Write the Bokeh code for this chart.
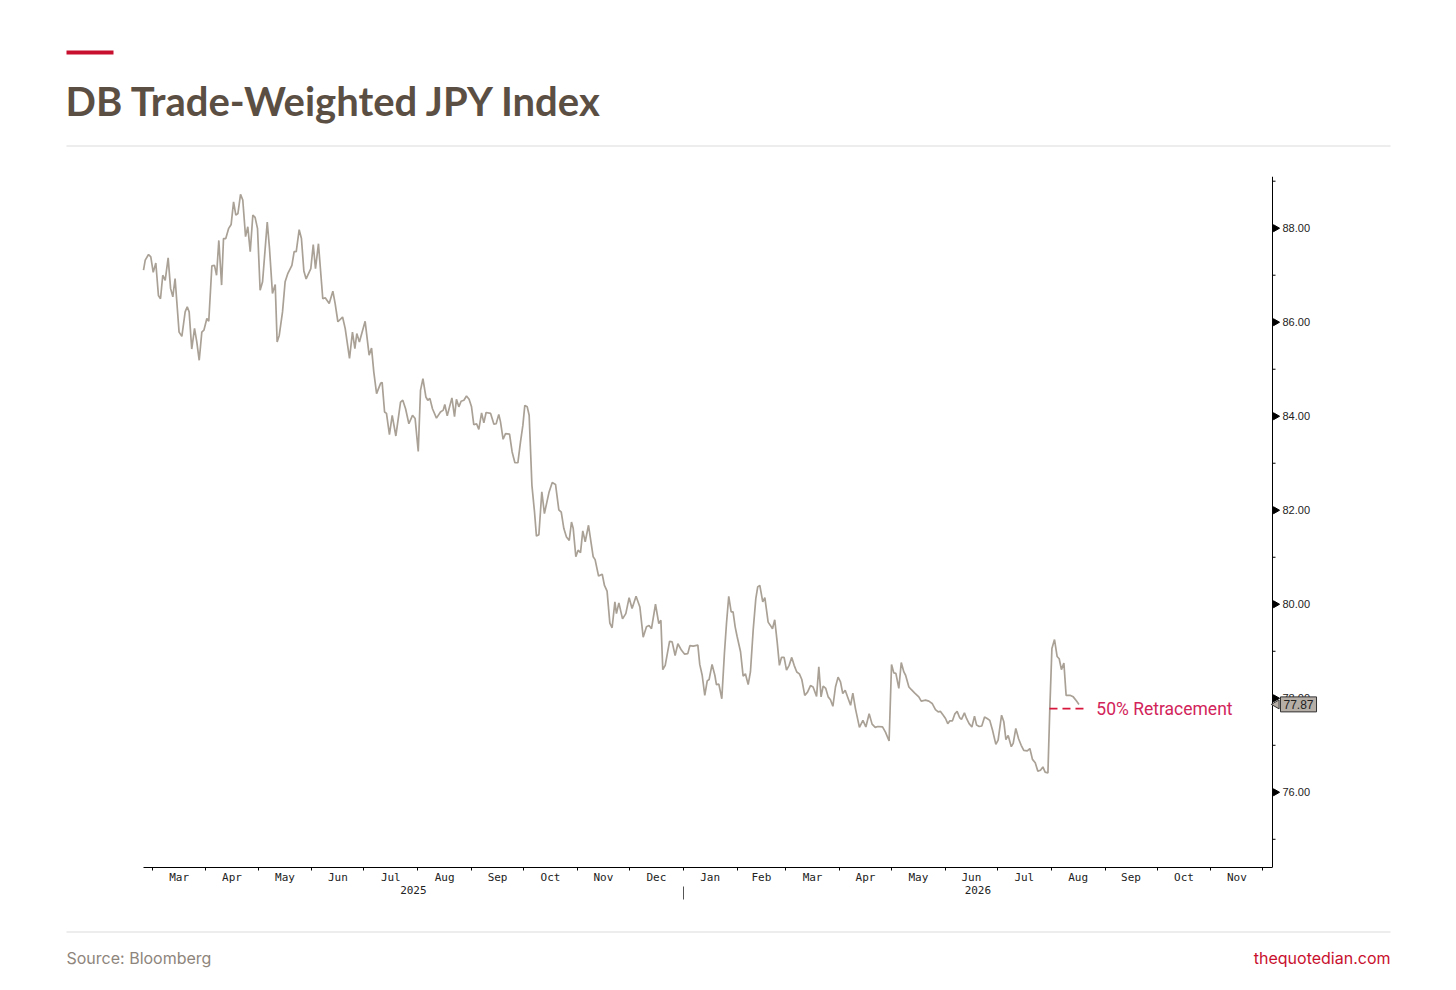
import math
import pandas as pd
from bokeh.plotting import figure
from bokeh.layouts import column
from bokeh.models import (DatetimeAxis, FixedTicker, DatetimeTickFormatter,
                          Range1d, Label, BoxAnnotation, ColumnDataSource)
from bokeh.core.properties import value
from bokeh.embed import file_html
from bokeh.resources import INLINE

# ---------------- data ----------------
START = pd.Timestamp("2025-02-24")
END = pd.Timestamp("2026-12-06 12:00")

# days since START
DAYS = [0, 1, 2.9, 4.2, 5.6, 7.1, 8.6, 9.8, 11.1, 12.5, 14.2, 15.6, 16.9, 18.2, 20.5, 22.1, 24, 25.2, 26.3, 27.8,
        29.4, 30.7, 32.1, 33.6, 34.8, 36.5, 37.6, 39.4, 40.9, 42.1, 43.4, 45, 46.1, 47.4, 49, 50.5, 51.9, 53.2, 54.4,
        55.9, 57.2, 58.8, 60.1, 61.5, 63, 64.3, 65.7, 67.2, 68.6, 71.3, 72.6, 74.3, 75.9, 77, 78.2, 80.1, 81.6, 83.2,
        85.5, 86.8, 88, 89.7, 91, 92.4, 93.7, 96.4, 97.8, 99.1, 100.8, 103.3, 104.7, 107, 109.1, 110.4, 112, 114.7,
        116.2, 118.7, 120.4, 121.8, 122.9, 124.4, 127.7, 130, 131.4,
        132.7, 134.3, 136.6, 137.5, 138.9, 140, 141.7, 143.3, 145.4, 148.1, 149.4, 151, 152.9, 155, 156.5, 158.3,
        159.6, 161, 162.7, 163.8, 165, 166.5, 168.8, 171.1, 172.7, 173.6, 175, 177.7, 179.2, 180.3, 181.7, 183,
        184.6, 186.1, 187.6, 189, 190.3, 191.9, 193.2, 194.8, 196.1, 197.4, 200, 201.9, 203.2, 204.7, 205.7, 207.2,
        208.6, 210.9, 212.4, 214, 215.7, 217.2, 218.6, 219.7, 221.1, 222.2, 223.8, 225.3, 226.4, 227.8, 229.5, 231,
        233.7, 235.5, 237.4, 239.3, 240.7, 242.2, 243.7, 245.3, 246.6, 247.6, 249.1, 250.4, 251.8, 253.1, 254.5,
        256.4, 259.1, 260.2, 262.2,
        264.3, 265.6, 267.1, 268.7, 270, 271.6, 272.5, 273.9, 276, 277.9, 279.8, 281.5, 283.8, 286, 287.9, 289.8,
        291.3, 292.7, 295, 296.9, 298.1, 299.2, 300.6, 303.1, 304.6, 306.3, 307.9, 310, 311.7, 313.6, 314.8, 316.7,
        319.4, 320.5, 321.9, 323.4, 324.8, 325.9, 327.6, 329.2, 330.1, 331.5, 333.2, 334.7, 335.9, 337.2, 338.6,
        339.7, 340.9, 342, 344, 345.5, 346.8, 348.4, 349.7, 351.3, 352.8, 353.9, 355.1, 356.8, 358, 359.9, 361.2,
        362.4, 363.7, 365.1, 366.4, 367.6, 369.1, 370.5, 372, 373.5, 374.9, 376.4, 377.9, 379.3, 381, 382.6, 384.3,
        385.8, 387.8, 389.1, 390.4, 391.6, 393.1, 394.5, 395.8, 397.2, 398.7, 400.2,
        401.6, 402.9, 404.3, 407.4, 408.7, 410.2, 412.5, 414.5, 416.2, 418.1, 419.8, 421.6, 423.1, 425.8, 427.5,
        429.6, 431, 432.3, 433.5, 435.2, 436.6, 438.1, 439.1, 441, 442.3, 444.4, 446.7, 448.1, 450.6, 452.5, 454.4,
        456.3, 457.9, 459.2, 460.8, 462.1, 463.4, 464.6, 466.1, 467.5, 468.8, 470.2, 471.3, 473, 474.2, 475.7,
        477.3, 478.8, 480, 481.5, 483, 484.6, 486.1, 487.6, 489.2, 491.1, 492.4, 494.4, 495.7, 496.9, 498.2, 500,
        501.1, 502.6, 504.2, 505.7, 507.2, 509.2, 510.7, 512.2, 513.8, 515.3, 516.8, 518.2, 519.5, 521.1, 522.2,
        523.4, 524.9, 526.4, 527.6, 528.9, 530.3, 531.6, 534.1, 535.7, 537.6, 539]

INDEX = [87.11, 87.32, 87.44, 87.39, 87.06, 87.26, 86.57, 86.50, 87.00, 86.89, 87.37, 86.72, 86.54, 86.93, 85.79,
         85.70, 86.22, 86.33, 86.22, 85.43, 85.87, 85.58, 85.19, 85.79, 85.83, 86.08, 86.02, 87.20, 87.21, 87.00,
         87.74, 86.79, 87.78, 87.78, 87.99, 88.08, 88.56, 88.28, 88.31, 88.72, 88.60, 87.82, 88.03, 87.50, 88.28,
         88.23, 87.99, 86.68, 86.86, 88.13, 87.57, 86.61, 86.80, 85.58, 85.72, 86.22, 86.86, 87.04, 87.21, 87.50,
         87.50, 87.97, 87.78, 87.09, 86.92, 87.14, 87.65, 87.14, 87.67, 86.50, 86.52, 86.40, 86.66, 86.40, 86.01,
         86.11, 85.87, 85.23, 85.79, 85.44, 85.76, 85.58, 86.02, 85.30, 85.45,
         84.94, 84.48, 84.70, 84.72, 84.09, 84.06, 83.61, 84.02, 83.58, 84.30, 84.34, 84.16, 83.84, 84.02, 83.95,
         83.25, 84.55, 84.80, 84.41, 84.34, 84.38, 84.16, 83.96, 84.09, 84.13, 84.25, 84.01, 84.39, 83.99, 84.36,
         84.20, 84.32, 84.34, 84.43, 84.36, 84.20, 83.82, 83.84, 83.72, 84.07, 83.86, 84.08, 84.06, 83.83, 83.84,
         84.04, 83.88, 83.51, 83.63, 83.62, 83.24, 83.01, 83.01, 83.45, 83.81, 84.23, 84.20, 84.02, 82.53, 81.96,
         81.45, 81.48, 82.39, 81.93, 82.39, 82.59, 82.55, 82.01, 81.96, 81.61, 81.43, 81.36, 81.75, 81.61, 81.01,
         81.15, 81.10, 81.56, 81.33, 81.68, 81.01, 80.95, 80.60,
         80.64, 80.40, 80.28, 79.60, 79.50, 80.05, 79.80, 80.03, 79.69, 79.80, 80.14, 79.91, 80.17, 79.94, 79.30,
         79.52, 79.55, 79.48, 80.00, 79.59, 79.66, 78.61, 78.70, 79.21, 79.20, 78.91, 79.16, 79.02, 78.94, 78.95,
         79.12, 79.11, 79.13, 78.72, 78.49, 78.06, 78.37, 78.40, 78.72, 78.49, 78.29, 78.30, 77.99, 78.95, 79.59,
         80.17, 79.84, 79.84, 79.52, 79.32, 78.99, 78.47, 78.52, 78.29, 78.56, 79.46, 80.12, 80.37, 80.40, 80.05,
         80.14, 79.62, 79.55, 79.48, 79.67, 79.20, 78.70, 78.87, 78.87, 78.60, 78.70, 78.87, 78.70, 78.56, 78.52,
         78.40, 78.06, 78.13, 78.27, 78.24, 78.04, 78.67, 78.03, 78.26, 78.21, 78.03, 77.97, 77.83, 78.24, 78.45,
         78.35, 78.10, 78.17, 77.85, 78.11, 77.78, 77.38, 77.53, 77.39, 77.67, 77.45, 77.38, 77.40, 77.39, 77.28,
         77.09, 78.72, 78.54, 78.53, 78.21, 78.76, 78.56, 78.49, 78.24, 78.19, 78.11, 78.03, 77.94, 77.96, 77.94,
         77.89, 77.76, 77.71, 77.72, 77.64, 77.57, 77.46, 77.52, 77.52, 77.67, 77.72, 77.59, 77.55, 77.69, 77.57,
         77.46, 77.39, 77.62, 77.43, 77.40, 77.41, 77.60, 77.57, 77.53, 77.32, 77.02, 77.11, 77.64, 77.50, 77.12,
         77.21, 76.97, 77.04, 77.36, 77.14, 77.00, 76.89, 76.88, 76.93, 76.70, 76.63, 76.45, 76.47, 76.54, 76.43,
         76.41, 77.78, 79.06, 79.25, 78.89, 78.84, 78.61, 78.75, 78.06, 78.06, 78.03, 77.94, 77.87]

Y_MIN, Y_MAX = 74.4, 89.1
Y_TICKS = [76, 78, 80, 82, 84, 86, 88]
Y_LABELS = ["76.00", "78.00", "80.00", "82.00", "84.00", "86.00", "88.00"]
Y_MINOR = [75, 77, 79, 81, 83, 85, 87, 89]
RETRACE_LEVEL = 77.78
RETRACE_DAYS = [522, 542.7]
RETRACE_TEXT_DAY = 549
RETRACE_TEXT = "50% Retracement"
TITLE = "DB Trade-Weighted JPY Index"
SOURCE = "Source: Bloomberg"
SITE = "thequotedian.com"

# ---------------- layout constants (pixels) ----------------
W = 1440
HEADER_H = 176
MAIN_H = 731
FOOTER_H = 70
AXIS_LEFT_PX, AXIS_RIGHT_PX = 143, 1272

LINE_COLOR = "#aaa196"
RED = "#c8102e"
TITLE_COLOR = "#5b4f44"
RULE_COLOR = "#dcdcdc"


def ms(ts):
    return ts.value / 1e6


def day_ms(d):
    return ms(START + pd.Timedelta(days=d))


start_ms, end_ms = ms(START), ms(END)
ms_per_px = (end_ms - start_ms) / (AXIS_RIGHT_PX - AXIS_LEFT_PX)
x_lo = start_ms - ms_per_px * AXIS_LEFT_PX
x_hi = end_ms + ms_per_px * (W - AXIS_RIGHT_PX)


def px_right_of_end(px):
    return end_ms + px * ms_per_px


def bare(fig):
    fig.outline_line_color = None
    fig.xgrid.visible = False
    fig.ygrid.visible = False
    return fig


# ---------------- header ----------------
hp = bare(figure(width=W, height=HEADER_H, x_range=Range1d(0, W), y_range=Range1d(HEADER_H, 0),
                 min_border=0, toolbar_location=None, output_backend="svg", title=None,
                 x_axis_location=None, y_axis_location=None))
hp.add_layout(BoxAnnotation(left=66, right=113, top=50, bottom=54, fill_color=RED, fill_alpha=1, line_color=None))
hp.add_layout(Label(x=65, y=100, text=TITLE, text_font="Lato", text_font_style="bold",
                    text_font_size="40px", text_color=TITLE_COLOR, text_baseline="middle"))
hp.add_layout(BoxAnnotation(left=66, right=1390, top=145, bottom=146, fill_color=RULE_COLOR,
                            fill_alpha=1, line_color=None))

# ---------------- main chart ----------------
src = ColumnDataSource(dict(x=[day_ms(d) for d in DAYS], y=INDEX))

p = bare(figure(width=W, height=MAIN_H, output_backend="svg", toolbar_location=None, title=None,
                x_range=Range1d(x_lo, x_hi), y_range=Range1d(Y_MIN, Y_MAX),
                x_axis_location=None, y_axis_location=None,
                min_border_left=0, min_border_right=0, min_border_top=0, min_border_bottom=40))

p.line("x", "y", source=src, line_color=LINE_COLOR, line_width=1.7)

# retracement dashed line + label
p.line([day_ms(d) for d in RETRACE_DAYS], [RETRACE_LEVEL, RETRACE_LEVEL],
       line_color="#d8173c", line_width=1.6, line_dash="8 5")
p.add_layout(Label(x=day_ms(RETRACE_TEXT_DAY), y=RETRACE_LEVEL, text=RETRACE_TEXT,
                   text_baseline="middle", text_font="Roboto", text_font_size="17.5px",
                   text_color="#d2245a"))

# right value axis (drawn at the end date)
p.segment(x0=[end_ms], y0=[Y_MIN], x1=[end_ms], y1=[Y_MAX], line_color="black", line_width=1)
p.scatter(x=[px_right_of_end(3)] * len(Y_TICKS), y=Y_TICKS, marker="triangle", angle=-math.pi / 2,
          size=7, fill_color="black", line_color="black")
p.ray(x=[end_ms] * len(Y_MINOR), y=Y_MINOR, length=3, length_units="screen", angle=0,
      line_color="black", line_width=1)
p.text(x=[end_ms] * len(Y_TICKS), y=Y_TICKS, text=Y_LABELS, x_offset=10, text_baseline="middle",
       text_font=value("Liberation Sans"), text_font_size="11px", text_color="#222222")

# last value tag
last = INDEX[-1]
p.scatter(x=[px_right_of_end(4)], y=[last], marker="triangle", angle=math.pi / 2, size=9,
          fill_color="#b5aea6", line_color="#333333")
p.text(x=[end_ms], y=[last], text=[f"{last:.2f}"], x_offset=8, text_baseline="middle",
       text_font=value("Liberation Sans"), text_font_size="12px", text_color="#222222",
       background_fill_color="#b5aea6", border_line_color="#333333", padding=3)

# month axis
fmt_m = DatetimeTickFormatter(milliseconds="%b", seconds="%b", minsec="%b", minutes="%b",
                              hourmin="%b", hours="%b", days="%b", months="%b", years="%b")
month_starts = pd.date_range("2025-03-01", "2026-12-01", freq="MS")
month_mids = [ms(a + (b - a) / 2) for a, b in zip(month_starts[:-1], month_starts[1:])]
xa = DatetimeAxis(ticker=FixedTicker(ticks=month_mids, minor_ticks=[ms(t) for t in month_starts]),
                  formatter=fmt_m, bounds=(start_ms, end_ms))
xa.axis_line_color = "black"
xa.major_tick_line_color = None
xa.major_tick_in = 0
xa.major_tick_out = 0
xa.minor_tick_in = 0
xa.minor_tick_out = 3
xa.minor_tick_line_color = "black"
xa.major_label_standoff = 0
xa.major_label_text_font = "DejaVu Sans Mono"
xa.major_label_text_font_size = "11px"
xa.major_label_text_color = "#222222"
p.add_layout(xa, "below")

# year axis
fmt_y = DatetimeTickFormatter(milliseconds="%Y", seconds="%Y", minsec="%Y", minutes="%Y",
                              hourmin="%Y", hours="%Y", days="%Y", months="%Y", years="%Y")
year_split = pd.Timestamp("2026-01-01")
year_mids = [ms(START + (year_split - START) / 2), ms(year_split + (END - year_split) / 2)]
ya = DatetimeAxis(ticker=FixedTicker(ticks=year_mids, minor_ticks=[ms(year_split)]), formatter=fmt_y)
ya.axis_line_color = None
ya.major_tick_line_color = None
ya.major_tick_in = 0
ya.major_tick_out = 0
ya.minor_tick_in = 0
ya.minor_tick_out = 13
ya.minor_tick_line_color = "#555555"
ya.major_label_standoff = -14
ya.major_label_text_font = "DejaVu Sans Mono"
ya.major_label_text_font_size = "11px"
ya.major_label_text_color = "#222222"
p.add_layout(ya, "below")

# ---------------- footer ----------------
fp = bare(figure(width=W, height=FOOTER_H, x_range=Range1d(0, W), y_range=Range1d(FOOTER_H, 0),
                 min_border=0, toolbar_location=None, output_backend="svg", title=None,
                 x_axis_location=None, y_axis_location=None))
fp.add_layout(BoxAnnotation(left=66, right=1390, top=24, bottom=25, fill_color=RULE_COLOR,
                            fill_alpha=1, line_color=None))
fp.add_layout(Label(x=66, y=50, text=SOURCE, text_font="Inter", text_font_size="16px",
                    text_color="#8e857c", text_baseline="middle"))
fp.add_layout(Label(x=1390, y=50, text=SITE, text_font="Inter", text_font_size="16px",
                    text_color=RED, text_baseline="middle", text_align="right"))

layout = column(hp, p, fp, spacing=0)
open("out.html", "w").write(file_html(layout, INLINE))
